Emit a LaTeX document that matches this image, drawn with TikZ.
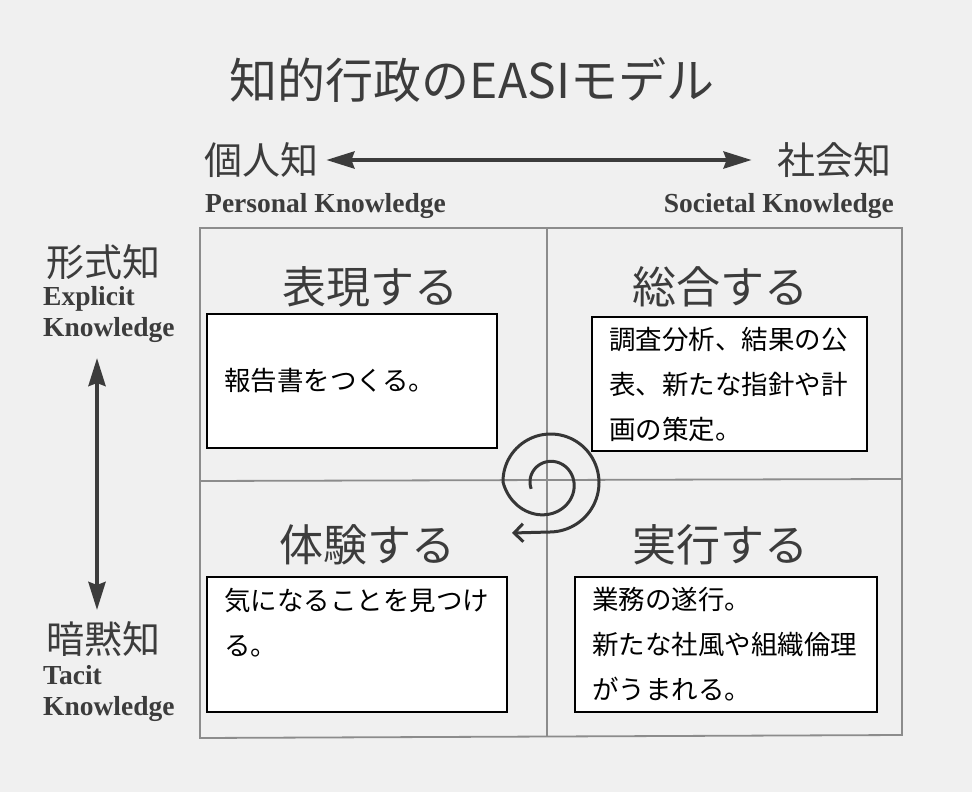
\documentclass[tikz,border=0pt]{standalone}
\usepackage{fontspec}
\setmainfont{Liberation Serif}
\newfontfamily\jp{Noto Sans CJK JP}
\usetikzlibrary{arrows.meta}
\definecolor{bgc}{HTML}{F0F0F0}
\definecolor{ink}{HTML}{3C3C3C}
\definecolor{gridc}{HTML}{8C8C8C}
\begin{document}
\begin{tikzpicture}[x=1pt,y=-1pt,
  declare function={rr(\t)=(\t>=-180)?(20+27*((200-(\t))/380)^3):(47+3*(-180-(\t))/270);},
  titlestyle/.style={font=\jp\fontsize{48}{48}\selectfont, text=ink, inner sep=0pt},
  jlab/.style={font=\jp\fontsize{38}{38}\selectfont, text=ink, inner sep=0pt},
  eng/.style={font=\bfseries\fontsize{27.5}{31}\selectfont, text=ink, inner sep=0pt, align=left},
  quad/.style={font=\jp\fontsize{44}{44}\selectfont, text=ink, inner sep=0pt},
  axisarrow/.style={draw=ink, line width=4pt, {Stealth[length=28pt,width=17pt,inset=3pt]}-{Stealth[length=28pt,width=17pt,inset=3pt]}},
  gridline/.style={draw=gridc, line width=1.8pt},
  box/.style={draw=black, fill=white, line width=2pt, font=\jp\fontsize{26.5}{45}\selectfont, align=left, inner xsep=17pt, inner ysep=0pt},
  spiral/.style={draw=ink!90!black, line width=3pt, -{Straight Barb[length=9pt,width=18pt]}}
]
\fill[bgc] (0,0) rectangle (972,792);
\useasboundingbox (0,0) rectangle (972,792);

% title
\node[titlestyle] (title) at (472,80) {知的行政のEASIモデル};

% horizontal axis
\node[jlab, anchor=west] (pk) at (204,160) {個人知};
\node[jlab, anchor=east] (sk) at (892,160) {社会知};
\draw[axisarrow, shorten <=8pt, shorten >=26pt] (pk.east) -- (sk.west);
\node[eng, anchor=west] (pke) at (205,206) {Personal Knowledge};
\node[eng, anchor=east] (ske) at (894,206) {Societal Knowledge};

% vertical axis
\node[jlab, anchor=west] (ex) at (46,262) {形式知};
\node[eng, anchor=west] (exe) at (43,314) {Explicit\\Knowledge};
\node[jlab, anchor=west] (ta) at (46,639) {暗黙知};
\node[eng, anchor=west] (tae) at (43,693) {Tacit\\Knowledge};
\coordinate (vtop) at (97,358);
\coordinate (vbot) at (97,610);
\draw[axisarrow] (vtop) -- (vbot);

% grid
\coordinate (g1) at (200,228);
\coordinate (g2) at (902,228);
\coordinate (g3) at (902,735);
\coordinate (g4) at (200,738);
\coordinate (gt) at (547,228);
\coordinate (gb) at (547,736);
\coordinate (gl) at (200,481);
\coordinate (gr) at (902,479);
\draw[gridline] (g1) -- (g2) -- (g3) -- (g4) -- cycle;
\draw[gridline] (gt) -- (gb);
\draw[gridline] (gl) -- (gr);

% quadrant titles
\node[quad] (q1) at (370,287) {表現する};
\node[quad] (q2) at (720,287) {総合する};
\node[quad] (q3) at (367,545) {体験する};
\node[quad] (q4) at (720,545) {実行する};

% boxes
\node[box, minimum width=290pt, minimum height=134pt, text width=256pt] (b1) at (352,381) {報告書をつくる。};
\node[box, minimum width=275pt, minimum height=134pt, text width=241pt] (b2) at (729.5,384) {調査分析、結果の公\\表、新たな指針や計\\画の策定。};
\node[box, minimum width=300pt, minimum height=135pt, text width=266pt] (b3) at (357,644.5) {気になることを見つけ\\る。\\\mbox{}};
\node[box, minimum width=302pt, minimum height=135pt, text width=268pt] (b4) at (726,644.5) {業務の遂行。\\新たな社風や組織倫理\\がうまれる。};

% spiral
\coordinate (sptip) at (512,533);
\draw[spiral] plot[domain=200:-450, samples=160, smooth, variable=\t] ({550+rr(\t)*cos(\t)},{482-rr(\t)*sin(\t)}) -- (sptip);
\end{tikzpicture}
\end{document}
